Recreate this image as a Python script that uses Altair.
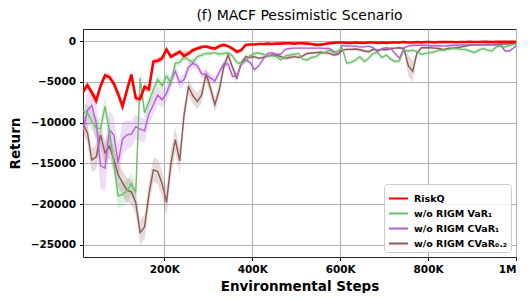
import altair as alt
import pandas as pd

steps = list(range(15000, 995000, 10000)) + [1000000]

series_names = ["RiskQ", "w/o RIGM VaR₁", "w/o RIGM CVaR₁", "w/o RIGM CVaR₀.₂"]
series_colors = ["#ff0000", "#6cbf6c", "#b65fd6", "#8c5a55"]

riskq = [-6200, -5400, -6300, -7300, -5500, -4200, -4400, -5200, -6500, -8000,
         -6000, -4100, -7000, -7100, -5600, -5900, -2500, -2400, -2100, -1000,
         -1900, -1600, -1300, -1800, -1500, -1100, -900, -700, -650, -800,
         -900, -600, -450, -600, -900, -1300, -1100, -450, -400, -400,
         -350, -350, -300, -350, -300, -300, -250, -250, -300, -250,
         -250, -300, -350, -450, -450, -350, -250, -200, -150, -150,
         -200, -200, -150, -200, -200, -150, -150, -200, -150, -200,
         -150, -150, -150, -100, -150, -150, -100, -150, -100, -100,
         -150, -100, -100, -100, -100, -120, -100, -100, -80, -100,
         -100, -80, -80, -100, -80, -80, -80, -80, -80]
riskq_sd = [400, 400, 500, 700, 500, 400, 400, 500, 600, 700,
            500, 400, 500, 500, 500, 500, 400, 400, 400, 300,
            300, 300, 300, 600, 400, 300, 250, 250, 250, 250,
            250, 250, 200, 200, 250, 300, 250, 200, 150, 150] + [100] * 59

var1 = [-8600, -8800, -9800, -10700, -10700, -8000, -11000, -15000, -19000, -18800,
        -18400, -17500, -18600, -4500, -8800, -7400, -6000, -4700, -5500, -4300,
        -5100, -2700, -2600, -1900, -2300, -2600, -1900, -1700, -1500, -1500,
        -1400, -1600, -1500, -1450, -1800, -2600, -2800, -2400, -1800, -1500,
        -1450, -1600, -1800, -1800, -1900, -2300, -1800, -1700, -1600, -1500,
        -2200, -2300, -2000, -1900, -1500, -1400, -1100, -1400, -1200, -900,
        -2700, -2600, -2300, -1900, -2500, -2100, -1500, -1400, -2000, -1700,
        -2200, -2500, -2400, -1100, -1200, -1100, -1300, -1600, -1500, -1400,
        -1300, -1100, -1100, -1000, -900, -900, -1000, -1000, -1200, -1400,
        -1100, -900, -1100, -1200, -700, -600, -700, -500, -300]
var1_sd = [1000, 1000, 1100, 1200, 1200, 1300, 1400, 1500, 1600, 1500,
           1400, 1300, 1300, 900, 900, 800, 800, 700, 700, 600,
           600, 500, 450, 400, 400, 400, 350, 350, 300, 300,
           300, 300, 300, 300, 300, 350, 350, 300, 300, 300] + [250] * 59

cvar1 = [-11000, -8500, -7900, -10000, -15300, -15600, -10900, -11500, -14900, -12000,
         -11500, -11400, -10500, -10800, -11000, -8900, -7800, -6600, -7200, -6400,
         -4900, -3700, -5100, -4700, -3200, -2700, -3000, -4000, -4100, -4500,
         -4900, -3800, -2800, -2800, -4300, -4300, -2800, -2300, -2600, -3500,
         -3000, -2200, -1500, -1400, -1600, -1600, -1000, -900, -850, -850,
         -850, -850, -850, -850, -850, -900, -900, -1200, -1600, -500,
         -600, -600, -600, -700, -700, -600, -800, -1300, -900, -800,
         -900, -1500, -2100, -800, -600, -500, -500, -500, -500, -550,
         -550, -550, -600, -550, -500, -500, -450, -450, -450, -450,
         -450, -450, -450, -450, -450, -500, -1200, -1200, -600]
cvar1_sd = [1500, 2000, 2200, 2500, 2800, 2800, 2500, 2200, 2200, 2000,
            1800, 1600, 1500, 1500, 1400, 1300, 1200, 1100, 1000, 1000,
            900, 800, 800, 700, 600, 600, 500, 500, 500, 500,
            500, 450, 400, 400, 400, 400, 350, 300, 300, 300] + [150] * 59

cvar02 = [-10200, -11200, -14600, -14200, -11500, -13700, -12900, -14500, -16400, -17400,
          -18300, -18500, -19800, -23500, -22800, -18800, -15800, -16000, -17500, -19800,
          -15000, -12100, -14700, -9000, -5600, -6700, -7400, -6600, -4000, -5800,
          -7800, -6000, -3200, -1700, -3200, -4500, -2700, -1900, -2000, -1900,
          -2100, -2000, -1800, -1700, -1700, -1900, -2100, -2000, -1900, -2000,
          -1800, -1500, -1450, -1400, -1350, -1400, -1500, -1700, -1600, -1100,
          -1000, -1000, -950, -1050, -1200, -1300, -1000, -1100, -1000, -1050,
          -900, -850, -800, -900, -3000, -3700, -1400, -800, -800, -800,
          -850, -900, -1050, -900, -850, -800, -700, -600, -500, -450,
          -450, -450, -400, -400, -400, -350, -350, -300, -300]
cvar02_sd = [1200, 1300, 1500, 1500, 1400, 1400, 1400, 1500, 1500, 1500,
             1500, 1500, 1500, 1500, 1500, 1500, 1500, 1500, 1600, 1700,
             1600, 1500, 1500, 1200, 1000, 1000, 1000, 1000, 900, 900,
             900, 900, 700, 500, 500, 500, 400, 300, 250, 250] + [200] * 34 + [1300, 1300] + [150] * 23

values = [riskq, var1, cvar1, cvar02]
spreads = [riskq_sd, var1_sd, cvar1_sd, cvar02_sd]

rows = []
for name, vals, sds in zip(series_names, values, spreads):
    for s, v, d in zip(steps, vals, sds):
        rows.append({"step": s, "series": name, "value": v, "lo": v - d, "hi": v + d})
df = pd.DataFrame(rows)

legend = alt.Legend(title=None, orient="bottom-right", offset=5,
                    symbolType="stroke", symbolSize=361, symbolOpacity=1,
                    symbolStrokeWidth=2, labelFontSize=9.5,
                    labelFontWeight="bold", labelFont="DejaVu Sans",
                    labelColor="#000", rowPadding=-5, labelOffset=5,
                    padding=4, strokeColor="#cccccc",
                    fillColor="rgba(255,255,255,0.85)",
                    cornerRadius=3, labelLimit=200)
color_enc = alt.Color("series:N", scale=alt.Scale(domain=series_names, range=series_colors),
                      legend=legend)
x_enc = alt.X("step:Q", scale=alt.Scale(domain=[15000, 1000000], nice=False),
              axis=alt.Axis(values=[200000, 400000, 600000, 800000, 1000000],
                            labelExpr="datum.value == 1000000 ? '1M' : (datum.value / 1000) + 'K'",
                            title="Environmental Steps"))
y_scale = alt.Scale(domain=[-26500, 1500], nice=False)
y_axis = alt.Axis(values=[0, -5000, -10000, -15000, -20000, -25000], format="d", title="Return")

base = alt.Chart(df)

bands = base.mark_area(opacity=0.22, clip=True).encode(
    x=x_enc,
    y=alt.Y("lo:Q", scale=y_scale, axis=y_axis),
    y2="hi:Q",
    color=color_enc,
    detail="series:N",
)

layers = [bands]
for idx in [3, 2, 1, 0]:
    name = series_names[idx]
    sw = 2.6 if idx == 0 else 1.4
    layers.append(
        base.transform_filter(alt.datum.series == name).mark_line(strokeWidth=sw, clip=True).encode(
            x=x_enc,
            y=alt.Y("value:Q", scale=y_scale, axis=y_axis),
            color=color_enc,
        )
    )

chart = alt.layer(*layers).properties(
    width=433, height=228,
    title=alt.Title("(f) MACF Pessimistic Scenario", font="DejaVu Sans", fontSize=14,
                    fontWeight="normal", anchor="middle", offset=6, color="#000"),
    autosize=alt.AutoSizeParams(type="none"),
    padding={"left": 75, "top": 21, "right": 8, "bottom": 36},
).configure_view(stroke="#222222", strokeWidth=1).configure_axis(
    labelFont="DejaVu Sans", labelFontSize=10.5, labelFontWeight="bold", labelColor="#000",
    titleFont="DejaVu Sans", titleFontWeight="bold", titleColor="#000",
    gridColor="#b0b0b0", gridWidth=1, domain=False, tickColor="#000", tickSize=3.5,
    labelPadding=4,
).configure_axisX(titleFontSize=13.5, titlePadding=4).configure_axisY(titleFontSize=13.5, titlePadding=8)

chart.save("out.html", embed_options={"renderer": "svg", "actions": False})
